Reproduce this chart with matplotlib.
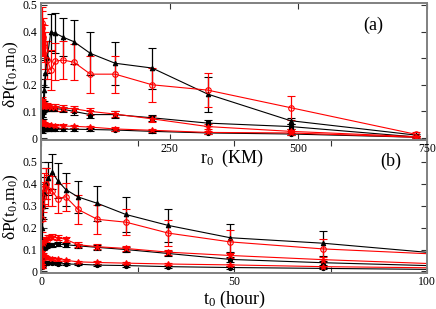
import matplotlib
matplotlib.use("Agg")
import matplotlib.pyplot as plt
from matplotlib.ticker import FixedLocator, FuncFormatter

plt.rcParams['font.family'] = ['Liberation Serif', 'DejaVu Serif']
plt.rcParams['mathtext.fontset'] = 'custom'
plt.rcParams['mathtext.rm'] = 'Liberation Serif'
plt.rcParams['mathtext.it'] = 'Liberation Serif:italic'

# ---------------- panel (a): r0 in km ----------------
r0 = [1.1, 1.7, 2.5, 3.7, 5.6, 8.4, 12.6, 19, 28, 43, 64, 96, 144, 216, 324, 485, 728]
a_black_top = [0.03, 0.045, 0.06, 0.1, 0.18, 0.243, 0.306, 0.398, 0.394, 0.379, 0.362, 0.318, 0.281, 0.263, 0.165, 0.065, 0.011]
a_black_top_err = [0.01, 0.015, 0.02, 0.03, 0.04, 0.05, 0.06, 0.07, 0.075, 0.072, 0.082, 0.082, 0.081, 0.077, 0.066, 0.012, 0.005]
a_red_top = [0.37, 0.433, 0.412, 0.38, 0.356, 0.33, 0.293, 0.255, 0.289, 0.293, 0.285, 0.24, 0.24, 0.2, 0.18, 0.114, 0.014]
a_red_top_err = [0.06, 0.06, 0.065, 0.07, 0.07, 0.07, 0.07, 0.075, 0.07, 0.07, 0.068, 0.07, 0.07, 0.065, 0.063, 0.045, 0.01]
a_black_mid = [0.09, 0.1, 0.105, 0.108, 0.11, 0.11, 0.11, 0.11, 0.11, 0.108, 0.1, 0.088, 0.088, 0.076, 0.056, 0.043, 0.004]
a_black_mid_err = [0.01, 0.01, 0.01, 0.01, 0.01, 0.01, 0.01, 0.01, 0.01, 0.01, 0.012, 0.012, 0.012, 0.012, 0.01, 0.008, 0.004]
a_red_mid = [0.144, 0.135, 0.131, 0.125, 0.121, 0.12, 0.119, 0.117, 0.115, 0.112, 0.11, 0.1, 0.09, 0.072, 0.043, 0.025, 0.005]
a_red_mid_err = [0.012, 0.012, 0.012, 0.012, 0.012, 0.012, 0.012, 0.012, 0.012, 0.012, 0.012, 0.012, 0.012, 0.012, 0.01, 0.008, 0.004]
a_black_low = [0.03, 0.031, 0.032, 0.032, 0.033, 0.033, 0.033, 0.033, 0.033, 0.033, 0.033, 0.032, 0.03, 0.025, 0.019, 0.015, 0.003]
a_black_low_err = [0.005] * 17
a_red_low = [0.06, 0.058, 0.056, 0.055, 0.054, 0.052, 0.05, 0.048, 0.047, 0.045, 0.044, 0.041, 0.034, 0.029, 0.021, 0.019, 0.003]
a_red_low_err = [0.006] * 17

# ---------------- panel (b): t0 in hours ----------------
t0 = [0.25, 0.38, 0.57, 0.86, 1.3, 1.9, 2.9, 4.3, 6.4, 9.6, 14.6, 22, 33, 49, 73, 110]
b_black_top = [0.1, 0.2, 0.3, 0.36, 0.4, 0.425, 0.455, 0.415, 0.374, 0.34, 0.311, 0.26, 0.21, 0.154, 0.129, 0.072]
b_black_top_err = [0.03, 0.05, 0.06, 0.07, 0.07, 0.075, 0.08, 0.08, 0.075, 0.075, 0.08, 0.08, 0.075, 0.063, 0.057, 0.05]
b_red_top = [0.24, 0.3, 0.34, 0.38, 0.4, 0.37, 0.367, 0.333, 0.341, 0.283, 0.238, 0.225, 0.175, 0.135, 0.103, 0.073]
b_red_top_err = [0.06, 0.07, 0.07, 0.07, 0.07, 0.07, 0.07, 0.065, 0.065, 0.065, 0.065, 0.06, 0.06, 0.053, 0.044, 0.04]
b_red_mid = [0.03, 0.09, 0.132, 0.14, 0.147, 0.154, 0.159, 0.154, 0.147, 0.122, 0.113, 0.105, 0.088, 0.073, 0.054, 0.03]
b_red_mid_err = [0.012] * 16
b_black_mid = [0.03, 0.06, 0.11, 0.113, 0.117, 0.12, 0.122, 0.125, 0.122, 0.117, 0.11, 0.1, 0.082, 0.055, 0.04, 0.022]
b_black_mid_err = [0.01] * 16
b_red_low = [0.02, 0.05, 0.081, 0.07, 0.066, 0.062, 0.059, 0.055, 0.051, 0.044, 0.041, 0.038, 0.034, 0.03, 0.022, 0.015]
b_red_low_err = [0.005] * 16
b_black_low = [0.02, 0.03, 0.035, 0.036, 0.037, 0.037, 0.037, 0.036, 0.034, 0.033, 0.029, 0.027, 0.022, 0.018, 0.014, 0.008]
b_black_low_err = [0.005] * 16

yticks = [0, 0.1, 0.2, 0.3, 0.4, 0.5]

fig = plt.figure(figsize=(4.36, 3.09), dpi=100)
L, R = 41 / 436, 427 / 436
ax_b = fig.add_axes([L, 36 / 309, R - L, 133 / 309])
ax_a = fig.add_axes([L, 169 / 309, R - L, 137 / 309])
ax_a.set_zorder(3)
ax_a.patch.set_alpha(0)

RED = '#ff0000'

def series(ax, x, y, e, color, marker, ms, mfc):
    ax.errorbar(x, y, yerr=e, color=color, lw=0.8, elinewidth=0.9,
                capsize=2.8, capthick=0.9, marker=marker, ms=ms,
                mfc=mfc, mec=color, mew=0.8, clip_on=True)

def draw(ax, x, bt, bte, rt, rte, bm, bme, rm, rme, bl, ble, rl, rle):
    series(ax, x, bt, bte, 'black', '^', 3.2, 'black')
    series(ax, x, bm, bme, 'black', 's', 2.6, 'black')
    series(ax, x, bl, ble, 'black', 'o', 3.0, 'black')
    series(ax, x, rt, rte, RED, 'o', 4.0, 'none')
    series(ax, x, rm, rme, RED, '*', 4.5, RED)
    series(ax, x, rl, rle, RED, '*', 4.0, RED)

draw(ax_a, r0, a_black_top, a_black_top_err, a_red_top, a_red_top_err,
     a_black_mid, a_black_mid_err, a_red_mid, a_red_mid_err,
     a_black_low, a_black_low_err, a_red_low, a_red_low_err)
draw(ax_b, t0, b_black_top, b_black_top_err, b_red_top, b_red_top_err,
     b_black_mid, b_black_mid_err, b_red_mid, b_red_mid_err,
     b_black_low, b_black_low_err, b_red_low, b_red_low_err)

fmt = FuncFormatter(lambda v, p: '0' if abs(v) < 1e-9 else ('%g' % v if v >= 1 else '%.1f' % v))

ax_a.set_xlim(0, 750)
ax_a.set_ylim(-0.0075, 0.5075)
ax_a.xaxis.set_major_locator(FixedLocator([250, 500, 750]))
ax_a.set_yticks(yticks)
ax_a.yaxis.set_major_formatter(fmt)

ax_b.set_xlim(0, 100)
ax_b.set_ylim(-0.007, 0.6)
ax_b.xaxis.set_major_locator(FixedLocator([0, 50, 100]))
ax_b.xaxis.set_minor_locator(FixedLocator([25, 75]))
ax_b.set_yticks(yticks)
ax_b.yaxis.set_major_formatter(fmt)

for ax in (ax_a, ax_b):
    ax.tick_params(which='both', direction='in', top=True, right=True,
                   length=4.5, width=0.8, color='#333333', labelsize=8.5, pad=2.5)
    for s in ax.spines.values():
        s.set_color('#808080')
        s.set_linewidth(1.4)

ax_a.set_ylabel('δP(r$_0$,m$_0$)', fontsize=12.5)
ax_b.set_ylabel('δP(t$_0$,m$_0$)', fontsize=12.5)
ax_a.set_xlabel('r$_0$  (KM)', fontsize=13)
ax_b.set_xlabel('t$_0$ (hour)', fontsize=13)
ax_a.yaxis.set_label_coords(-0.052, 0.48)
ax_b.yaxis.set_label_coords(-0.052, 0.5)
ax_a.xaxis.set_label_coords(0.495, -0.06)
ax_b.xaxis.set_label_coords(0.5, -0.118)

ax_a.text(0.86, 0.84, '(a)', transform=ax_a.transAxes, fontsize=13, ha='center', va='center')
ax_b.text(0.905, 0.84, '(b)', transform=ax_b.transAxes, fontsize=13, ha='center', va='center')

fig.savefig('out.png', dpi=100)
